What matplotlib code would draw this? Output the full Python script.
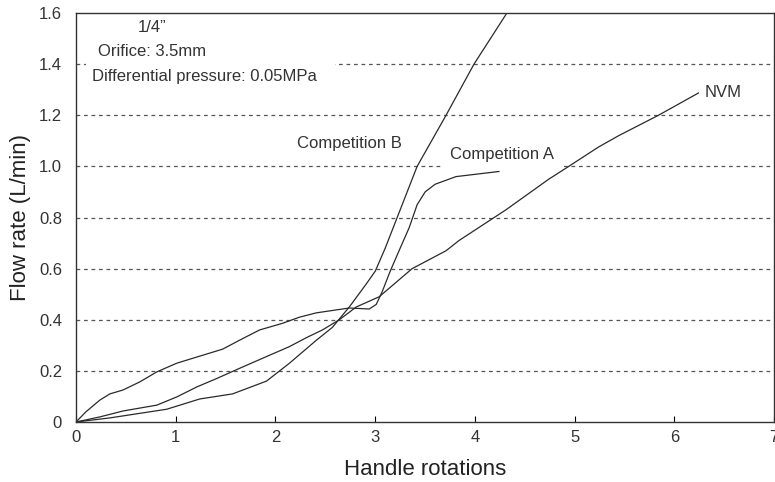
import matplotlib
matplotlib.use("Agg")
import matplotlib.pyplot as plt
from matplotlib.patches import Rectangle

plt.rcParams['font.family'] = ['Liberation Sans', 'DejaVu Sans']

# Competition A
compA_x = [0, 0.10, 0.24, 0.34, 0.47, 0.64, 0.81, 1.01, 1.21, 1.47, 1.64, 1.84, 2.07, 2.24, 2.41,
           2.74, 2.94, 3.01, 3.07, 3.15, 3.25, 3.34, 3.42, 3.50, 3.60, 3.81, 4.24]
compA_y = [0, 0.04, 0.086, 0.11, 0.125, 0.157, 0.196, 0.23, 0.254, 0.285, 0.32, 0.36, 0.386, 0.41, 0.427,
           0.446, 0.442, 0.46, 0.51, 0.59, 0.68, 0.76, 0.85, 0.90, 0.93, 0.96, 0.98]

# Competition B
compB_x = [0, 0.34, 0.91, 1.24, 1.57, 1.91, 2.14, 2.41, 2.57, 2.74, 2.91, 3.00, 3.10, 3.22, 3.42,
           3.71, 3.99, 4.32]
compB_y = [0, 0.016, 0.05, 0.09, 0.11, 0.16, 0.23, 0.32, 0.37, 0.45, 0.54, 0.59, 0.68, 0.80, 1.00,
           1.20, 1.40, 1.60]

# NVM
nvm_x = [0, 0.24, 0.47, 0.81, 1.01, 1.21, 1.41, 1.64, 1.91, 2.14, 2.31, 2.47, 2.64, 2.81, 3.04,
         3.37, 3.71, 3.84, 4.31, 4.74, 4.94, 5.24, 5.44, 5.84, 6.24]
nvm_y = [0, 0.02, 0.043, 0.066, 0.098, 0.137, 0.17, 0.21, 0.256, 0.295, 0.33, 0.36, 0.40, 0.45, 0.49,
         0.60, 0.67, 0.71, 0.83, 0.95, 1.0, 1.076, 1.12, 1.20, 1.287]

x_ticks = [0, 1, 2, 3, 4, 5, 6, 7]
y_ticks = [0, 0.2, 0.4, 0.6, 0.8, 1.0, 1.2, 1.4, 1.6]
y_tick_labels = ['0', '0.2', '0.4', '0.6', '0.8', '1.0', '1.2', '1.4', '1.6']

fig = plt.figure(figsize=(7.75, 4.82), dpi=100)
ax = fig.add_axes([76/775, 60/482, 699/775 - 0.001, 409/482])

line_kw = dict(color='#2a2a2a', lw=0.9)
ax.plot(compA_x, compA_y, **line_kw)
ax.plot(compB_x, compB_y, **line_kw)
ax.plot(nvm_x, nvm_y, **line_kw)

ax.set_xlim(0, 7)
ax.set_ylim(0, 1.6)
ax.set_xticks(x_ticks)
ax.set_yticks(y_ticks)
ax.set_yticklabels(y_tick_labels)

for yv in y_ticks[1:-1]:
    ax.axhline(yv, color='#555555', lw=0.9, ls=(0, (3, 3)), zorder=1)

# white mask behind the annotation block (gap in the 1.4 gridline)
ax.add_patch(Rectangle((10/699, 1.37), (335-86)/699, 0.06, transform=ax.get_yaxis_transform(),
                       facecolor='white', edgecolor='none', zorder=1.5))

ax.tick_params(axis='x', direction='in', length=4, width=0.8, labelsize=12, pad=6)
ax.tick_params(axis='y', length=0, labelsize=12, pad=10)
for lab in ax.get_xticklabels() + ax.get_yticklabels():
    lab.set_color('#333333')

for s in ax.spines.values():
    s.set_linewidth(1.0)
    s.set_color('#333333')

ax.set_xlabel('Handle rotations', fontsize=16, labelpad=10, color='#222222')
ax.set_ylabel('Flow rate (L/min)', fontsize=16, labelpad=6, color='#222222')

tc = '#333333'
ax.text(0.76, 1.543, '1/4\u201d', fontsize=12, ha='center', va='center', color=tc, zorder=3)
ax.text(0.22, 1.451, 'Orifice: 3.5mm', fontsize=12, ha='left', va='center', color=tc, zorder=4)
ax.text(0.16, 1.35, 'Differential pressure: 0.05MPa', fontsize=12, ha='left', va='center', color=tc, zorder=3)
ax.text(2.22, 1.09, 'Competition B', fontsize=12, ha='left', va='center', color=tc, zorder=3)
ax.text(3.75, 1.045, 'Competition A', fontsize=12, ha='left', va='center', color=tc, zorder=3,
        bbox=dict(facecolor='white', edgecolor='none', pad=5))
ax.text(6.30, 1.29, 'NVM', fontsize=12, ha='left', va='center', color=tc, zorder=3)

fig.savefig('out.png', dpi=100)
